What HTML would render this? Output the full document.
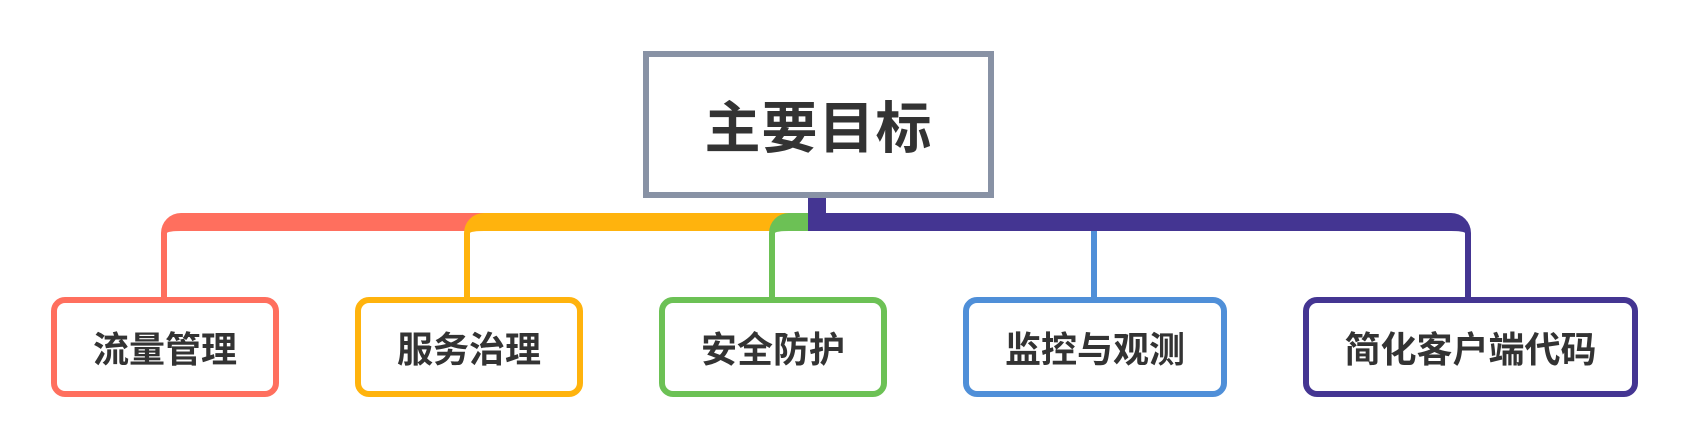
<!DOCTYPE html>
<html><head><meta charset="utf-8"><style>
html,body{margin:0;padding:0;background:#fff;}
body{width:1688px;height:446px;position:relative;overflow:hidden;font-family:"Liberation Sans","Noto Sans CJK SC",sans-serif;}
.a{position:absolute;box-sizing:border-box;}
.main{left:643px;top:51px;width:351px;height:147px;border:6px solid #8892A5;background:#fff;display:flex;align-items:center;justify-content:center;font-size:56px;font-weight:bold;color:#333;letter-spacing:1px;}
.br{top:213px;height:86px;border-top:18px solid;border-left:6px solid;border-top-left-radius:20px;}
.box{top:297px;height:100px;border:6px solid;border-radius:14px;background:#fff;display:flex;align-items:center;justify-content:center;font-size:36px;font-weight:bold;color:#333;}
</style></head><body>
<div class="a br" style="left:161px;width:330px;border-color:#FF6F5E;"></div>
<div class="a br" style="left:464px;width:330px;border-color:#FFB30D;"></div>
<div class="a br" style="left:769px;width:60px;border-color:#6CC155;"></div>
<div class="a" style="left:808px;top:213px;width:663px;height:86px;border-top:18px solid #443592;border-right:6px solid #443592;border-top-right-radius:20px;"></div>
<div class="a" style="left:808px;top:195px;width:18px;height:20px;background:#443592;"></div>
<div class="a" style="left:1091px;top:231px;width:6px;height:68px;background:#4F8FD8;"></div>
<div class="a main">主要目标</div>
<div class="a box" style="left:51px;width:228px;border-color:#FF6F5E;">流量管理</div>
<div class="a box" style="left:355px;width:228px;border-color:#FFB30D;">服务治理</div>
<div class="a box" style="left:659px;width:228px;border-color:#6CC155;">安全防护</div>
<div class="a box" style="left:963px;width:264px;border-color:#4F8FD8;">监控与观测</div>
<div class="a box" style="left:1303px;width:335px;border-color:#443592;">简化客户端代码</div>
</body></html>
